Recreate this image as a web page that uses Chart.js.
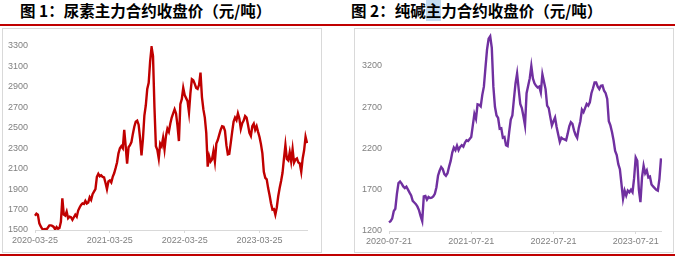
<!DOCTYPE html>
<html>
<head>
<meta charset="utf-8">
<script src="https://cdn.jsdelivr.net/npm/chart.js@4.4.0/dist/chart.umd.min.js"></script>
<style>
  body { margin: 0; width: 688px; height: 257px; background: #fff; position: relative; overflow: hidden; font-family: "Noto Sans CJK SC", sans-serif; }
  .title { position: absolute; top: 0; font-size: 15.5px; font-weight: bold; line-height: 20px; color: #000; white-space: nowrap; }
  .rule { position: absolute; left: 0; width: 675px; height: 2px; background: #c00000; }
  .box { position: absolute; top: 28px; width: 318px; height: 223px; border: 1px solid #d9d9d9; }
  .box canvas { position: absolute; left: 0; top: 0; }
  .hl { background: #c4dbf0; }
</style>
</head>
<body>
<div class="title" style="left:20px">图 1：尿素主力合约收盘价（元/吨）</div>
<div class="title" style="left:351px">图 2：纯碱<span class="hl">主</span>力合约收盘价（元/吨）</div>
<div class="rule" style="top:24px"></div>
<div class="box" style="left:2px"><canvas id="urea" width="318" height="223"></canvas></div>
<div class="box" style="left:354px"><canvas id="soda" width="318" height="223"></canvas></div>
<div class="rule" style="top:254px"></div>

<script>
// 尿素 weekly closes, starting 2020-03-25
const ureaStart = '2020-03-25';
const ureaClose = [
  1640, 1660, 1650, 1565, 1535, 1512, 1505, 1510, 1505, 1525,
  1545, 1545, 1540, 1530, 1505, 1528, 1512, 1520, 1580, 1810,
  1650, 1640, 1680, 1615, 1630, 1625, 1600, 1625, 1650, 1630,
  1690, 1720, 1745, 1760, 1755, 1785, 1760, 1770, 1820, 1795,
  1850, 1875, 1900, 2020, 2050, 2025, 2035, 2020, 2015, 1960,
  1900, 1975, 1985, 1965, 2020, 2055, 2105, 2160, 2250, 2300,
  2320, 2300, 2480, 2320, 2150, 2310, 2330, 2360, 2440, 2510,
  2560, 2570, 2530, 2400, 2230, 2390, 2620, 2720, 2880, 2940,
  3150, 3290, 3200, 2700, 2320, 2285, 2200, 2345, 2320, 2400,
  2290, 2420, 2490, 2460, 2540, 2600, 2640, 2680, 2640, 2520,
  2370, 2730, 2780, 2890, 2820, 2790, 2760, 2650, 2840, 2975,
  2965, 2930, 2890, 2880, 2920, 3040, 2800, 2680, 2600, 2450,
  2120, 2220, 2170, 2190, 2270, 2170, 2345, 2380, 2430, 2480,
  2515, 2510, 2470, 2330, 2240, 2245, 2350, 2460, 2560, 2600,
  2575, 2640, 2590, 2490, 2545, 2570, 2615, 2600, 2530, 2450,
  2420, 2515, 2540, 2480, 2515, 2460, 2410, 2340, 2250, 2070,
  2010, 1995, 1910, 1840, 1760, 1700, 1705, 1650, 1720, 1830,
  1910, 1980, 2060, 2200, 2330, 2195, 2180, 2260, 2170, 2290,
  2160, 2190, 2200, 2160, 2150, 2070, 2200, 2280, 2410, 2350
];
const ureaXTicks = ['2020-03-25', '2021-03-25', '2022-03-25', '2023-03-25'];
const ureaYTicks = [1500, 1700, 1900, 2100, 2300, 2500, 2700, 2900, 3100, 3300];

// 纯碱 weekly closes, starting 2020-07-21
const sodaStart = '2020-07-21';
const sodaClose = [
  1305, 1320, 1350, 1440, 1470, 1650, 1780, 1800, 1775, 1740,
  1720, 1738, 1702, 1665, 1630, 1565, 1545, 1525, 1495, 1450,
  1380, 1320, 1620, 1625, 1580, 1612, 1600, 1605, 1620, 1650,
  1730, 1870, 1930, 1975, 1950, 1890, 1870, 1900, 1980, 2050,
  2150, 2210, 2180, 2235, 2180, 2220, 2240, 2222, 2270, 2300,
  2290, 2315, 2340, 2480, 2620, 2560, 2735, 2730, 2710, 2850,
  2950, 3180, 3400, 3530, 3560, 3420, 2950, 2705, 2600, 2570,
  2440, 2445, 2330, 2340, 2240, 2230, 2400, 2550, 2600, 2800,
  2990, 3110, 2920, 2740, 2690, 2590, 2480, 2870, 2960, 3050,
  3200, 3050, 2990, 2960, 2940, 2950, 2880, 3100, 3010, 2920,
  2720, 2690, 2580, 2480, 2530, 2575, 2460, 2370, 2280, 2330,
  2315, 2310, 2300, 2380, 2470, 2520, 2500, 2420, 2365, 2330,
  2450, 2530, 2670, 2640, 2690, 2740, 2720, 2760, 2870, 2930,
  3000, 3000, 2950, 2920, 2960, 2965, 2900, 2870, 2800, 2530,
  2480, 2400, 2300, 2170, 2120, 2010, 1950, 1770, 1590, 1690,
  1630, 1690, 1670, 1700, 1670, 1840, 2090, 2050, 1700, 1550,
  1850, 1990, 1900, 1935, 1850, 1860, 1765, 1740, 1720, 1700,
  1690, 1830, 2080
];
const sodaXTicks = ['2020-07-21', '2021-07-21', '2022-07-21', '2023-07-21'];
const sodaYTicks = [1200, 1700, 2200, 2700, 3200];

const DAY = 86400000;

function weekLabels(start, n) {
  const t0 = Date.parse(start);
  const out = [];
  for (let i = 0; i < n; i++) out.push(new Date(t0 + i * 7 * DAY).toISOString().slice(0, 10));
  return out;
}

// index of the week nearest to each tick date
function tickIndexes(start, dates) {
  const t0 = Date.parse(start);
  return dates.map(d => Math.round((Date.parse(d) - t0) / (7 * DAY)));
}

function drawChart(id, opt) {
  const xIdx = tickIndexes(opt.start, opt.xTicks);
  const tickFont = { family: 'Liberation Sans', size: 9 };

  return new Chart(document.getElementById(id), {
    type: 'line',
    data: {
      labels: weekLabels(opt.start, opt.values.length),
      datasets: [{
        data: opt.values,
        borderColor: opt.color,
        borderWidth: 2.4,
        pointRadius: 0,
        tension: 0,
      }],
    },
    options: {
      responsive: false,
      animation: false,
      devicePixelRatio: 1,
      layout: { padding: { top: opt.padTop, right: opt.padRight, left: 0, bottom: 0 } },
      plugins: { legend: { display: false }, tooltip: { enabled: false } },
      scales: {
        x: {
          type: 'category',
          offset: false,
          border: { display: true, color: '#d9d9d9', width: 1 },
          grid: { display: true, drawOnChartArea: false, drawTicks: true, tickLength: 3, color: '#d9d9d9' },
          ticks: {
            autoSkip: false,
            maxRotation: 0,
            padding: 2,
            color: '#808080',
            font: tickFont,
            callback: (v, i) => opt.xTicks[i],
          },
          afterBuildTicks: s => { s.ticks = xIdx.map(v => ({ value: v })); },
          afterFit: s => { s.height = opt.xHeight; s.paddingLeft = 0; s.paddingRight = 0; },
        },
        y: {
          min: opt.yMin,
          max: opt.yMax,
          border: { display: false },
          grid: { display: false, drawTicks: false },
          ticks: { padding: 7, color: '#808080', font: tickFont, callback: v => String(v) },
          afterBuildTicks: s => { s.ticks = opt.yTicks.map(v => ({ value: v })); },
          afterFit: s => { s.width = opt.yWidth; s.paddingTop = 0; s.paddingBottom = 0; },
        },
      },
    },
  });
}

drawChart('urea', {
  start: ureaStart, values: ureaClose, xTicks: ureaXTicks, yTicks: ureaYTicks,
  color: '#c00000', yMin: 1500, yMax: 3300,
  padTop: 17, padRight: 14, yWidth: 32, xHeight: 22,
});

drawChart('soda', {
  start: sodaStart, values: sodaClose, xTicks: sodaXTicks, yTicks: sodaYTicks,
  color: '#7030a0', yMin: 1200, yMax: 3600,
  padTop: 4, padRight: 12, yWidth: 34, xHeight: 21,
});
</script>
</body>
</html>
